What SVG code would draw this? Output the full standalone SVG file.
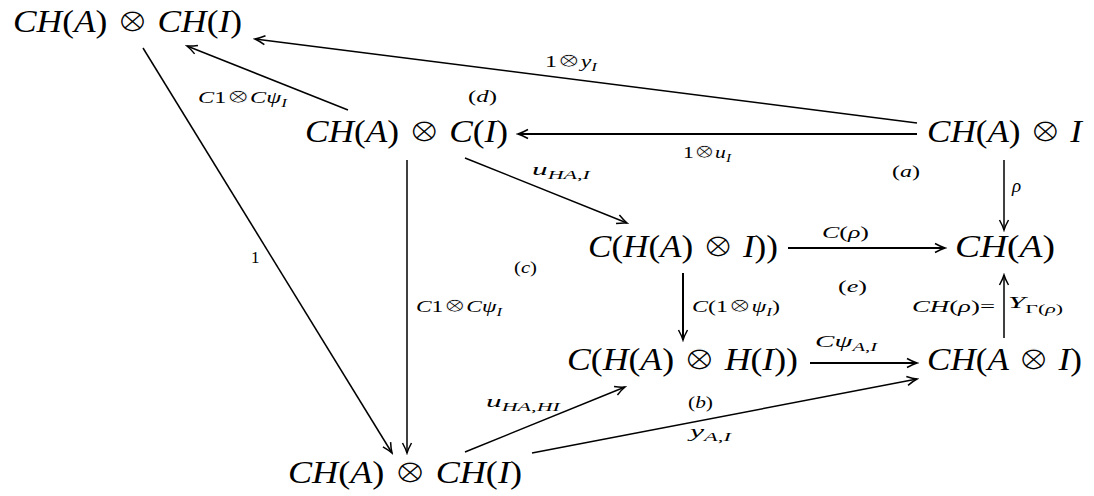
<svg xmlns="http://www.w3.org/2000/svg" width="1094" height="496" viewBox="0 0 1094 496">
<style>
text{font-family:"Liberation Serif","DejaVu Serif",serif;fill:#000;font-style:italic}
.n{font-size:31px}
.l{font-size:17px}
.u{font-style:normal}
.s{font-size:12px}
.n .o{stroke:#fff;stroke-width:1.2px;font-size:34px}
.l .o{stroke:#fff;stroke-width:0.7px;font-size:20px}
line{stroke:#000;stroke-width:1.5;fill:none}
</style>
<defs>
<marker id="ah" markerUnits="userSpaceOnUse" viewBox="-12 -6 14 12" refX="0" refY="0" markerWidth="14" markerHeight="12" orient="auto">
<path d="M-10,-4.5 Q-4,-1.2 0,0 Q-4,1.2 -10,4.5" fill="none" stroke="#000" stroke-width="1.5"/>
</marker>
</defs>
<rect width="1094" height="496" fill="#fff"/>
<g id="connectors">
<line x1="917" y1="123" x2="255" y2="39" marker-end="url(#ah)"/>
<line x1="348" y1="110" x2="187" y2="46" marker-end="url(#ah)"/>
<line x1="917" y1="134" x2="518" y2="134" marker-end="url(#ah)" style="stroke-width:2"/>
<line x1="143" y1="48" x2="392" y2="453" marker-end="url(#ah)"/>
<line x1="407" y1="160" x2="407" y2="453" marker-end="url(#ah)"/>
<line x1="465" y1="158" x2="627" y2="223" marker-end="url(#ah)"/>
<line x1="1004" y1="160" x2="1004" y2="230" marker-end="url(#ah)"/>
<line x1="788" y1="248" x2="945" y2="248" marker-end="url(#ah)" style="stroke-width:2"/>
<line x1="683" y1="273" x2="683" y2="340" marker-end="url(#ah)" style="stroke-width:2"/>
<line x1="1004" y1="338" x2="1004" y2="275" marker-end="url(#ah)"/>
<line x1="810" y1="363" x2="917" y2="363" marker-end="url(#ah)" style="stroke-width:2"/>
<line x1="465" y1="452" x2="625" y2="387" marker-end="url(#ah)"/>
<line x1="532" y1="453" x2="917" y2="379" marker-end="url(#ah)"/>
</g>
<g id="labels">
<text class="l" x="545" y="67" textLength="52" lengthAdjust="spacingAndGlyphs"><tspan class="u">1</tspan><tspan class="u o">⊗</tspan>y<tspan class="s" dy="4">I</tspan></text>
<text class="l" x="198" y="103" textLength="89" lengthAdjust="spacingAndGlyphs">C<tspan class="u">1</tspan><tspan class="u o">⊗</tspan>Cψ<tspan class="s" dy="4">I</tspan></text>
<text class="l" x="683" y="158" textLength="48" lengthAdjust="spacingAndGlyphs"><tspan class="u">1</tspan><tspan class="u o">⊗</tspan>u<tspan class="s" dy="4">I</tspan></text>
<text class="l" x="532" y="175" textLength="58" lengthAdjust="spacingAndGlyphs">u<tspan class="s" dy="4">HA<tspan class="u">,</tspan>I</tspan></text>
<text class="l" x="1012" y="192" style="font-size:19px">ρ</text>
<text class="l u" x="251" y="263">1</text>
<text class="l" x="416" y="312" textLength="86" lengthAdjust="spacingAndGlyphs">C<tspan class="u">1</tspan><tspan class="u o">⊗</tspan>Cψ<tspan class="s" dy="4">I</tspan></text>
<text class="l" x="822" y="238" textLength="47" lengthAdjust="spacingAndGlyphs">C<tspan class="u">(</tspan>ρ<tspan class="u">)</tspan></text>
<text class="l" x="692" y="312" textLength="88" lengthAdjust="spacingAndGlyphs">C<tspan class="u">(1</tspan><tspan class="u o">⊗</tspan>ψ<tspan class="s" dy="4">I</tspan><tspan class="u" dy="-4">)</tspan></text>
<text class="l" x="912" y="312" textLength="83" lengthAdjust="spacingAndGlyphs">CH<tspan class="u">(</tspan>ρ<tspan class="u">)=</tspan></text>
<text class="l" x="1008" y="308" textLength="55" lengthAdjust="spacingAndGlyphs">Y<tspan class="s" dy="5"><tspan class="u">Γ(</tspan>ρ<tspan class="u">)</tspan></tspan></text>
<text class="l" x="815" y="347" textLength="62" lengthAdjust="spacingAndGlyphs">Cψ<tspan class="s" dy="4">A<tspan class="u">,</tspan>I</tspan></text>
<text class="l" x="486" y="407" textLength="74" lengthAdjust="spacingAndGlyphs">u<tspan class="s" dy="4">HA<tspan class="u">,</tspan>HI</tspan></text>
<text class="l" x="690" y="437" textLength="41" lengthAdjust="spacingAndGlyphs">y<tspan class="s" dy="4">A<tspan class="u">,</tspan>I</tspan></text>
<text class="l" x="468" y="102" textLength="29" lengthAdjust="spacingAndGlyphs"><tspan class="u">(</tspan>d<tspan class="u">)</tspan></text>
<text class="l" x="892" y="177" textLength="28" lengthAdjust="spacingAndGlyphs"><tspan class="u">(</tspan>a<tspan class="u">)</tspan></text>
<text class="l" x="514" y="273" textLength="23" lengthAdjust="spacingAndGlyphs"><tspan class="u">(</tspan>c<tspan class="u">)</tspan></text>
<text class="l" x="838" y="292" textLength="29" lengthAdjust="spacingAndGlyphs"><tspan class="u">(</tspan>e<tspan class="u">)</tspan></text>
<text class="l" x="688" y="408" textLength="25" lengthAdjust="spacingAndGlyphs"><tspan class="u">(</tspan>b<tspan class="u">)</tspan></text>
</g>
<g id="n1"><text class="n" x="13" y="32" textLength="229" lengthAdjust="spacingAndGlyphs">CH<tspan class="u">(</tspan>A<tspan class="u">) </tspan><tspan class="u o">⊗</tspan><tspan class="u"> </tspan>CH<tspan class="u">(</tspan>I<tspan class="u">)</tspan></text></g>
<g id="n2"><text class="n" x="305" y="142" textLength="203" lengthAdjust="spacingAndGlyphs">CH<tspan class="u">(</tspan>A<tspan class="u">) </tspan><tspan class="u o">⊗</tspan><tspan class="u"> </tspan>C<tspan class="u">(</tspan>I<tspan class="u">)</tspan></text></g>
<g id="n3"><text class="n" x="927" y="142" textLength="155" lengthAdjust="spacingAndGlyphs">CH<tspan class="u">(</tspan>A<tspan class="u">) </tspan><tspan class="u o">⊗</tspan><tspan class="u"> </tspan>I</text></g>
<g id="n4"><text class="n" x="588" y="257" textLength="190" lengthAdjust="spacingAndGlyphs">C<tspan class="u">(</tspan>H<tspan class="u">(</tspan>A<tspan class="u">) </tspan><tspan class="u o">⊗</tspan><tspan class="u"> </tspan>I<tspan class="u">))</tspan></text></g>
<g id="n5"><text class="n" x="955" y="257" textLength="100" lengthAdjust="spacingAndGlyphs">CH<tspan class="u">(</tspan>A<tspan class="u">)</tspan></text></g>
<g id="n6"><text class="n" x="567" y="370" textLength="231" lengthAdjust="spacingAndGlyphs">C<tspan class="u">(</tspan>H<tspan class="u">(</tspan>A<tspan class="u">) </tspan><tspan class="u o">⊗</tspan><tspan class="u"> </tspan>H<tspan class="u">(</tspan>I<tspan class="u">))</tspan></text></g>
<g id="n7"><text class="n" x="927" y="370" textLength="155" lengthAdjust="spacingAndGlyphs">CH<tspan class="u">(</tspan>A<tspan class="u"> </tspan><tspan class="u o">⊗</tspan><tspan class="u"> </tspan>I<tspan class="u">)</tspan></text></g>
<g id="n8"><text class="n" x="288" y="483" textLength="234" lengthAdjust="spacingAndGlyphs">CH<tspan class="u">(</tspan>A<tspan class="u">) </tspan><tspan class="u o">⊗</tspan><tspan class="u"> </tspan>CH<tspan class="u">(</tspan>I<tspan class="u">)</tspan></text></g>
</svg>
